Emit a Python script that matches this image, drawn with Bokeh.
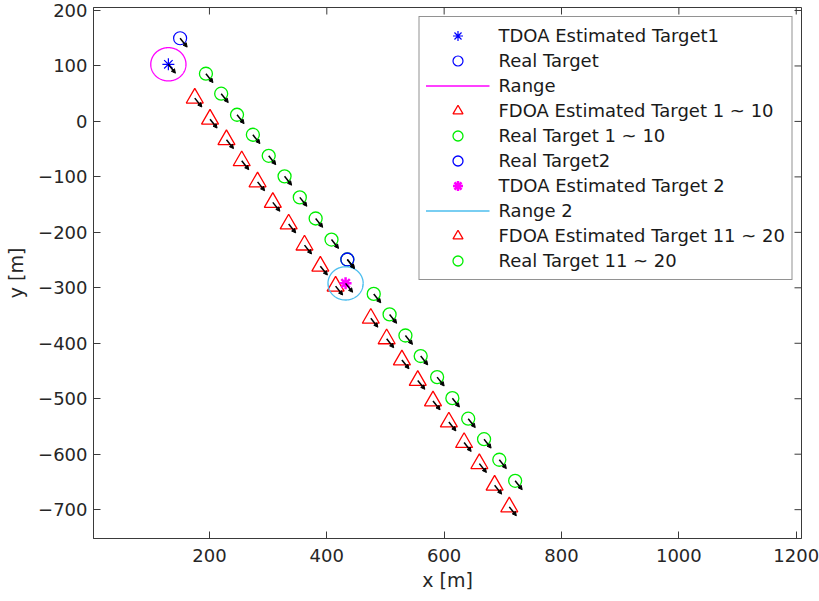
import numpy as np
from bokeh.plotting import figure
from bokeh.models import (ColumnDataSource, Arrow, NormalHead, FixedTicker,
                          Range1d, Legend, LegendItem)
from bokeh.embed import file_html
from bokeh.resources import INLINE

# ---------------- data ----------------
real1_x, real1_y = [150], [150]
tdoa1_x, tdoa1_y = [130], [103]
range1_r = 30

fdoa_a_x = [175, 201, 229, 255, 282, 308, 335, 362, 389, 415]
fdoa_a_y = [42, 4, -33, -71, -109, -146, -185, -223, -261, -297]
real_a_x = [194, 220, 247, 274, 301, 328, 354, 381, 408, 435]
real_a_y = [86, 50, 12, -24, -62, -99, -137, -175, -213, -249]

real2_x, real2_y = [435], [-249]
tdoa2_x, tdoa2_y = [432], [-292]
range2_r = 30

fdoa_b_x = [475, 502, 528, 555, 581, 608, 634, 660, 686, 711]
fdoa_b_y = [-355, -392, -430, -467, -504, -542, -579, -617, -656, -695]
real_b_x = [480, 507, 534, 560, 588, 614, 641, 668, 694, 721]
real_b_y = [-311, -348, -386, -423, -461, -499, -536, -573, -610, -648]

# velocity arrow (same for every target)
arrow_dx, arrow_dy = 12, -16

x_ticks = [200, 400, 600, 800, 1000, 1200]
y_ticks = [-700, -600, -500, -400, -300, -200, -100, 0, 100, 200]
x_lim = (2.4, 1209)
y_lim = (-752, 205.4)

FONT = "DejaVu Sans"
AX = "#3a3a3a"
W, H = 819, 601
ML, MR, MT, MB = 93, 18, 7, 63

p = figure(width=W, height=H, output_backend="svg", toolbar_location=None,
           x_range=Range1d(*x_lim), y_range=Range1d(*y_lim),
           min_border_left=ML, min_border_right=MR, min_border_top=MT, min_border_bottom=MB)
p.background_fill_color = "white"
p.border_fill_color = "white"
p.grid.visible = False
p.outline_line_color = AX

for ax in (p.xaxis[0], p.yaxis[0]):
    ax.major_tick_in = 7
    ax.major_tick_out = 0
    ax.minor_tick_line_color = None
    ax.axis_line_color = AX
    ax.major_tick_line_color = AX
    ax.major_label_text_font = FONT
    ax.major_label_text_font_size = "18px"
    ax.major_label_text_color = "#262626"
    ax.axis_label_text_font = FONT
    ax.axis_label_text_font_size = "19px"
    ax.axis_label_text_font_style = "normal"
    ax.axis_label_text_color = "#262626"

p.xaxis[0].ticker = FixedTicker(ticks=x_ticks)
p.yaxis[0].ticker = FixedTicker(ticks=y_ticks)
p.xaxis[0].axis_label = "x [m]"
p.yaxis[0].axis_label = "y [m]"
p.xaxis[0].major_label_standoff = 10
p.yaxis[0].major_label_standoff = 6
p.xaxis[0].axis_label_standoff = 4
p.yaxis[0].axis_label_standoff = 8

# mirrored ticks on top and right (box on)
tick_px = 7
fw, fh = W - ML - MR, H - MT - MB
tx = tick_px * (x_lim[1] - x_lim[0]) / fw
ty = tick_px * (y_lim[1] - y_lim[0]) / fh
p.segment(x0=x_ticks, y0=[y_lim[1]] * len(x_ticks), x1=x_ticks, y1=[y_lim[1] - ty] * len(x_ticks),
          line_color=AX, line_width=1)
p.segment(x0=[x_lim[1]] * len(y_ticks), y0=y_ticks, x1=[x_lim[1] - tx] * len(y_ticks), y1=y_ticks,
          line_color=AX, line_width=1)

theta = np.linspace(0, 2 * np.pi, 200)

r_tdoa1 = p.scatter(tdoa1_x, tdoa1_y, marker="asterisk", size=12, line_color="#0000FF", line_width=1.2)
r_real1 = p.scatter(real1_x, real1_y, marker="circle", size=13, line_color="#0000FF",
                    fill_color=None, line_width=1.2)
r_range1 = p.line(tdoa1_x[0] + range1_r * np.cos(theta), tdoa1_y[0] + range1_r * np.sin(theta),
                  line_color="#FF00FF", line_width=1.3)
r_fdoa_a = p.scatter(fdoa_a_x, fdoa_a_y, marker="triangle", size=17, line_color="#FF0000",
                     fill_color=None, line_width=1.3)
r_real_a = p.scatter(real_a_x, real_a_y, marker="circle", size=13, line_color="#00EE00",
                     fill_color=None, line_width=1.3)
r_real2 = p.scatter(real2_x, real2_y, marker="circle", size=13, line_color="#0000FF",
                    fill_color=None, line_width=1.3)
r_tdoa2 = p.scatter(tdoa2_x, tdoa2_y, marker="asterisk", size=12, line_color="#FF00FF", line_width=2.5)
r_range2 = p.line(tdoa2_x[0] + range2_r * np.cos(theta), tdoa2_y[0] + range2_r * np.sin(theta),
                  line_color="#4DBEEE", line_width=1.3)
r_fdoa_b = p.scatter(fdoa_b_x, fdoa_b_y, marker="triangle", size=17, line_color="#FF0000",
                     fill_color=None, line_width=1.3)
r_real_b = p.scatter(real_b_x, real_b_y, marker="circle", size=13, line_color="#00EE00",
                     fill_color=None, line_width=1.3)

# velocity arrows
ax_all = real1_x + tdoa1_x + fdoa_a_x + real_a_x + real2_x + tdoa2_x + fdoa_b_x + real_b_x
ay_all = real1_y + tdoa1_y + fdoa_a_y + real_a_y + real2_y + tdoa2_y + fdoa_b_y + real_b_y
asrc = ColumnDataSource(dict(x0=ax_all, y0=ay_all,
                             x1=[v + arrow_dx for v in ax_all],
                             y1=[v + arrow_dy for v in ay_all]))
p.add_layout(Arrow(source=asrc, x_start="x0", y_start="y0", x_end="x1", y_end="y1",
                   line_color="black", line_width=1.5,
                   end=NormalHead(size=4, fill_color="black", line_color="black", line_width=1)))

legend = Legend(items=[
    LegendItem(label="TDOA Estimated Target1", renderers=[r_tdoa1]),
    LegendItem(label="Real Target", renderers=[r_real1]),
    LegendItem(label="Range", renderers=[r_range1]),
    LegendItem(label="FDOA Estimated Target 1 ~ 10", renderers=[r_fdoa_a]),
    LegendItem(label="Real Target 1 ~ 10", renderers=[r_real_a]),
    LegendItem(label="Real Target2", renderers=[r_real2]),
    LegendItem(label="TDOA Estimated Target 2", renderers=[r_tdoa2]),
    LegendItem(label="Range 2", renderers=[r_range2]),
    LegendItem(label="FDOA Estimated Target 11 ~ 20", renderers=[r_fdoa_b]),
    LegendItem(label="Real Target 11 ~ 20", renderers=[r_real_b]),
], location="top_right")
legend.margin = 9
legend.padding = 6
legend.spacing = 0
legend.glyph_width = 64
legend.glyph_height = 25
legend.label_height = 25
legend.label_standoff = 9
legend.label_text_font = FONT
legend.label_text_font_size = "18px"
legend.label_text_color = "#1a1a1a"
legend.border_line_color = "#262626"
legend.border_line_width = 1
legend.background_fill_color = "white"
legend.background_fill_alpha = 1
p.add_layout(legend)

open("out.html", "w").write(file_html(p, INLINE))
